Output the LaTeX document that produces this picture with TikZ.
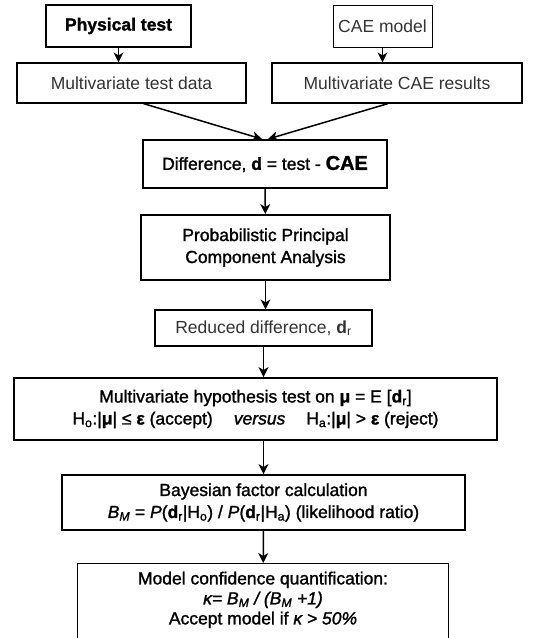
\documentclass[tikz,border=0pt]{standalone}
\usepackage{fontspec}
\setmainfont{Liberation Sans}
\newfontfamily\heavyfont{Liberation Sans}[FakeBold=1.4]
\usetikzlibrary{arrows.meta}
\begin{document}
\begin{tikzpicture}[x=1pt,y=-1pt,
 box/.style={draw, line width=1.9pt, align=center, inner sep=0pt, font=\heavyfont\fontsize{17.5}{22}\selectfont},
 lbox/.style={box, line width=1.2pt, text=black!80, font=\normalfont\fontsize{17.5}{21.5}\selectfont},
 arr/.style={-{Stealth[length=10pt,width=10pt,inset=3pt]}, line width=1.5pt}]
\path[use as bounding box, clip] (0,0) rectangle (533,638);
\node[box, minimum width=145pt, minimum height=42pt] (phys) at (118.5,26) {\textbf{Physical test}};
\node[lbox, line width=1pt, minimum width=99pt, minimum height=42pt] (cae) at (382.5,26) {CAE model};
\node[lbox, minimum width=229pt, minimum height=40pt] (mtd) at (131.5,83) {Multivariate test data};
\node[lbox, minimum width=250pt, minimum height=40pt] (mcr) at (397,83) {Multivariate CAE results};
\node[box, minimum width=244pt, minimum height=48pt] (diff) at (265,164) {Difference, \textbf{d} = test - {\fontsize{20}{22}\selectfont\textbf{CAE}}};
\node[box, minimum width=249pt, minimum height=65pt] (ppca) at (265.5,247.5) {Probabilistic Principal\\Component Analysis};
\node[lbox, minimum width=217pt, minimum height=36pt] (red) at (263.5,328) {Reduced difference, \textbf{d}\textsubscript{r}};
\node[box, minimum width=483pt, minimum height=62pt] (hyp) at (255.5,409) {Multivariate hypothesis test on \textbf{μ} = E [\textbf{d}\textsubscript{r}]\\
H\textsubscript{o}:|\textbf{μ}| ≤ \textbf{ε} (accept)\hspace{1.2em}\textit{versus}\hspace{1.2em}H\textsubscript{a}:|\textbf{μ}| > \textbf{ε} (reject)};
\node[box, minimum width=403pt, minimum height=55pt] (bay) at (263.5,502.5) {Bayesian factor calculation\\
\textit{B\textsubscript{M}} = \textit{P}(\textbf{d}\textsubscript{r}|H\textsubscript{o}) / \textit{P}(\textbf{d}\textsubscript{r}|H\textsubscript{a}) (likelihood ratio)};
\node[box, line width=1.4pt, minimum width=371pt, anchor=north, inner ysep=8pt, font=\heavyfont\fontsize{17.5}{20}\selectfont] (mc) at (263,563) {Model confidence quantification:\\
\textit{κ= B\textsubscript{M} / (B\textsubscript{M} +1)}\\
Accept model if \textit{κ > 50\%}\\[10pt]\mbox{}};
\draw[arr] (phys) -- (mtd.north -| phys);
\draw[arr] (cae) -- (mcr.north -| cae);
\draw[arr] ([xshift=12pt]mtd.south) -- ([xshift=-3pt]diff.north);
\draw[arr] ([xshift=-9pt]mcr.south) -- ([xshift=3pt]diff.north);
\draw[arr] (diff) -- (ppca);
\draw[arr] (ppca.south) -- (red.north -| ppca.south);
\draw[arr] (red.south) -- (hyp.north -| red.south);
\draw[arr] (hyp.south -| bay.north) -- (bay.north);
\draw[arr] (bay) -- (mc);
\end{tikzpicture}
\end{document}
